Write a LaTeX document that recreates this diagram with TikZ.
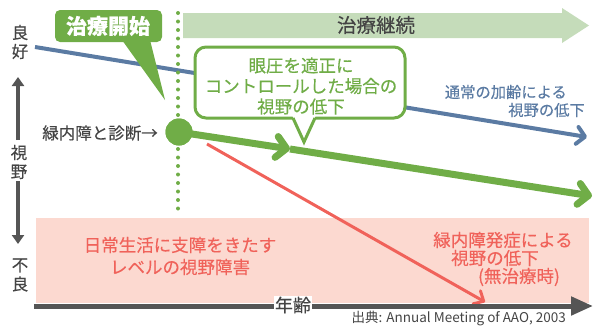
\documentclass[tikz,border=0pt]{standalone}
\usepackage{fontspec}
\setmainfont{Noto Sans CJK JP}[FakeBold=0.3]
\newfontfamily\srcfont{Noto Sans CJK JP}
\usetikzlibrary{arrows.meta}
\definecolor{gGreen}{HTML}{70AD47}
\definecolor{gBlue}{HTML}{5B7BA3}
\definecolor{gRed}{HTML}{F0625A}
\definecolor{gPink}{HTML}{FCD9D0}
\definecolor{gBanner}{HTML}{C5DCBA}
\definecolor{gAxis}{HTML}{555555}
\definecolor{gText}{HTML}{444444}
\tikzset{
  axisline/.style={gAxis, line width=4pt},
  bluearrow/.style={gBlue, line width=4pt, -{Straight Barb[length=8pt,width=17pt,line cap=round,line join=round]}},
  greenarrow/.style={gGreen, line width=7pt, -{Straight Barb[length=10pt,width=21pt,line cap=round,line join=round]}},
  redarrow/.style={gRed, line width=3pt, -{Straight Barb[length=8pt,width=15pt,line cap=round,line join=round]}},
  vlabel/.style={text=gText, align=center, inner sep=1pt, font=\fontsize{16.5}{19}\selectfont},
  bubbletext/.style={text=gGreen, align=center, font=\fontsize{17.5}{20.5}\selectfont},
  bluetext/.style={text=gBlue, font=\fontsize{15.3}{18}\selectfont, inner sep=0pt},
  redtext/.style={text=gRed, font=\fontsize{17.5}{21}\selectfont, inner sep=0pt},
}
\begin{document}
\begin{tikzpicture}[x=1pt,y=-1pt]
\useasboundingbox (0,0) rectangle (595,327);
% pink zone
\fill[gPink] (36,218) rectangle (589,303);
% banner arrow
\fill[gBanner] (183,13) -- (562,13) -- (562,8) -- (589,25.5) -- (562,43) -- (562,38) -- (183,38) -- cycle;
\node[text=gText, font=\fontsize{19.5}{19.5}\selectfont] (cont) at (376,25) {治療継続};
% coordinates
\coordinate (bS) at (35,47);
\coordinate (bE) at (587,137);
\coordinate (rS) at (207,144);
\coordinate (rE) at (485,302);
\coordinate (gM) at (290,149);
\coordinate (gE) at (592,196);
\coordinate (dT) at (178,13);
\coordinate (dB) at (178,213);
% blue line
\draw[bluearrow] (bS) -- (bE);
% red line
\draw[redarrow] (rS) -- (rE);
% dotted start line
\draw[gGreen, line width=4pt, line cap=round, dash pattern=on 0pt off 8.5pt] (dT) -- (dB);
% diagnosis point
\node[circle, fill=gGreen, minimum size=27pt, inner sep=0pt] (dx) at (179,132) {};
\draw[greenarrow] (dx.center) -- (gM);
\draw[greenarrow] (gM) -- (gE);
\node[circle, fill=gGreen, minimum size=27pt, inner sep=0pt] (dx2) at (dx) {};
\node[anchor=east, text=gText, font=\fontsize{16.5}{16.5}\selectfont, inner sep=0pt] (dxl) at (158,133) {緑内障と診断→};
% axes
\coordinate (hS) at (34,306);
\coordinate (hE) at (593,306);
\draw[axisline, line width=5pt, -{Triangle[length=22pt,width=18pt]}] (hS) -- (hE);
\node[fill=white, inner sep=1pt, text=gText, font=\fontsize{18}{18}\selectfont] (age) at (293,305) {年齢};
\coordinate (vU1) at (18,140);
\coordinate (vU2) at (18,77);
\coordinate (vD1) at (18,181);
\coordinate (vD2) at (18,244);
\draw[axisline, -{Triangle[length=9pt,width=12pt]}] (vU1) -- (vU2);
\draw[axisline, -{Triangle[length=9pt,width=12pt]}] (vD1) -- (vD2);
\node[vlabel] (good) at (20,42) {良\\好};
\node[vlabel] (vis) at (19,162) {視\\野};
\node[vlabel] (bad) at (20,275) {不\\良};
% start callout
\fill[gGreen] (122,40) -- (150,40) -- (165,100) -- cycle;
\fill[gGreen, rounded corners=5pt] (55,10) rectangle (162,42);
\node[text=white, font=\bfseries\fontsize{21}{21}\selectfont] (start) at (108,26) {治療開始};
% speech bubble
\draw[gGreen, line width=3pt, fill=white, rounded corners=11pt] (195,47) rectangle (405,118);
\fill[white] (292.5,116) -- (315.5,116) -- (304,141.5) -- cycle;
\draw[gGreen, line width=3pt, line join=miter] (293,118) -- (304,142) -- (315,118);
\node[bubbletext] (bub) at (301,86) {眼圧を適正に\\コントロールした場合の\\視野の低下};
% blue label
\node[bluetext, anchor=east] (bl1) at (567,92) {通常の加齢による};
\node[bluetext, anchor=east] (bl2) at (585,110) {視野の低下};
% pink zone text
\node[text=gRed, align=center, font=\fontsize{17.5}{22}\selectfont] (zone) at (180,256) {日常生活に支障をきたす\\レベルの視野障害};
% red label
\node[redtext] (rl1) at (503,240) {緑内障発症による};
\node[redtext] (rl2) at (495,258) {視野の低下};
\node[redtext] (rl3) at (519,277) {(無治療時)};
% source
\node[anchor=east, text=gText, font=\srcfont\fontsize{13.5}{13.5}\selectfont, inner sep=0pt] (src) at (566,318) {出典: Annual Meeting of AAO, 2003};
\end{tikzpicture}
\end{document}
